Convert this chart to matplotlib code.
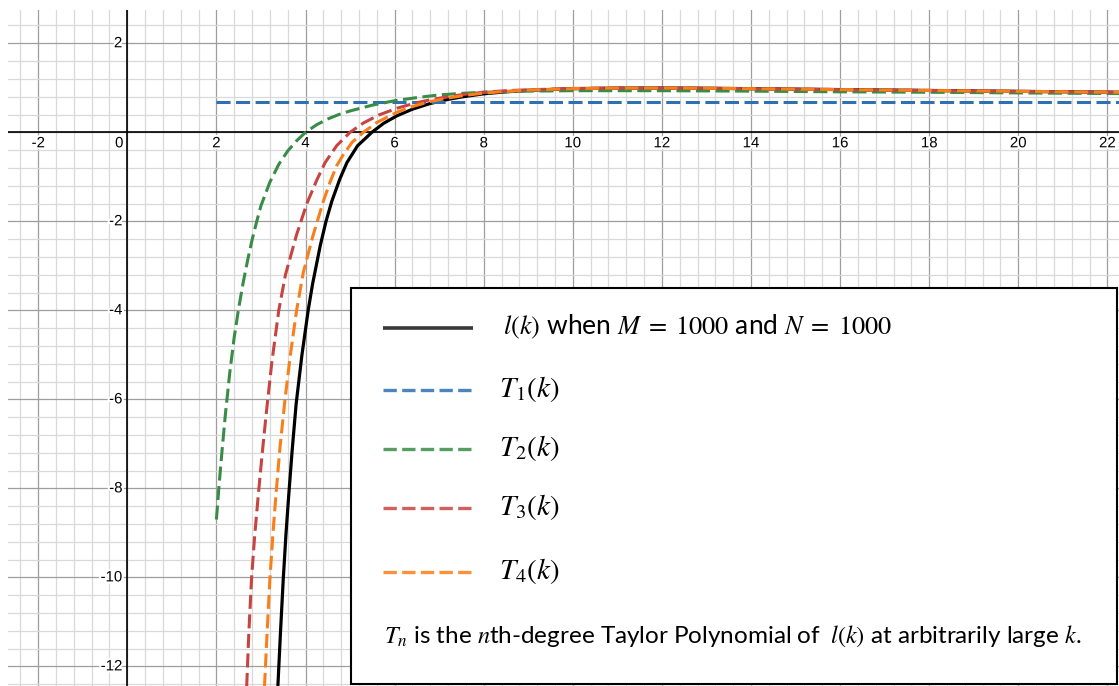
import numpy as np
import matplotlib
matplotlib.use("Agg")
import matplotlib.pyplot as plt
from matplotlib.ticker import MultipleLocator
from matplotlib.patches import Rectangle
import matplotlib.patheffects as pe

plt.rcParams['mathtext.fontset'] = 'stix'

# ----- curve samples (k, value) -----
k_l = [3.36, 3.38, 3.44, 3.50, 3.56, 3.62, 3.70, 3.79, 3.92, 4.06, 4.16, 4.33,
       4.46, 4.59, 4.77, 4.93, 5.17, 5.49, 5.75, 6.05, 6.40, 6.79, 7.20, 7.54,
       8.00, 8.50, 9.00, 10.0, 11.0, 12.0, 13.0, 14.0, 16.0, 18.0, 20.0, 22.3]
l_vals = [-12.9, -12.44, -11.2, -10.05, -9.05, -8.2, -7.15, -6.1, -5.0, -4.0, -3.4, -2.55,
          -2.0, -1.55, -1.05, -0.68, -0.3, 0.0, 0.2, 0.37, 0.52, 0.645, 0.74, 0.80,
          0.865, 0.91, 0.945, 0.98, 0.993, 0.995, 0.99, 0.98, 0.96, 0.94, 0.92, 0.90]

k_t1 = [2.0, 22.3]
t1_vals = [0.69, 0.69]

k_t2 = [2.0, 2.05, 2.1, 2.2, 2.3, 2.4, 2.5, 2.6, 2.7, 2.8, 2.9, 3.0,
        3.2, 3.4, 3.6, 3.8, 4.0, 4.25, 4.5, 4.75, 5.0, 5.5, 6.0, 6.5,
        7.0, 7.5, 8.0, 9.0, 10.0, 12.0, 14.0, 16.0, 18.0, 20.0, 22.3]
t2_vals = [-8.7, -8.05, -7.45, -6.35, -5.4, -4.6, -3.95, -3.38, -2.88, -2.42, -2.02, -1.65,
           -1.12, -0.72, -0.42, -0.19, 0.0, 0.17, 0.3, 0.4, 0.48, 0.61, 0.71, 0.78,
           0.84, 0.875, 0.9, 0.925, 0.935, 0.935, 0.925, 0.91, 0.90, 0.885, 0.87]

k_t3 = [2.66, 2.68, 2.73, 2.79, 2.86, 2.94, 3.02, 3.11, 3.24, 3.40, 3.55, 3.80,
        4.03, 4.25, 4.44, 4.70, 5.00, 5.30, 5.65, 6.05, 6.40, 6.79, 7.20, 7.54,
        8.00, 8.50, 9.00, 10.0, 11.0, 12.0, 13.0, 14.0, 16.0, 18.0, 20.0, 22.3]
t3_vals = [-12.9, -12.44, -11.2, -10.0, -9.05, -8.15, -7.3, -6.4, -5.2, -4.0, -3.2, -2.3,
           -1.6, -1.08, -0.68, -0.3, 0.0, 0.21, 0.39, 0.54, 0.64, 0.73, 0.80, 0.85,
           0.90, 0.935, 0.955, 0.985, 0.995, 0.995, 0.99, 0.98, 0.96, 0.94, 0.92, 0.90]

k_t4 = [3.06, 3.08, 3.14, 3.20, 3.27, 3.34, 3.43, 3.54, 3.66, 3.80, 3.95, 4.16,
        4.40, 4.55, 4.70, 4.85, 5.05, 5.30, 5.60, 6.05, 6.40, 6.79, 7.20, 7.54,
        8.00, 8.50, 9.00, 10.0, 11.0, 12.0, 13.0, 14.0, 16.0, 18.0, 20.0, 22.3]
t4_vals = [-12.9, -12.44, -11.2, -10.05, -9.0, -8.1, -7.05, -6.0, -5.0, -4.0, -3.15, -2.35,
           -1.55, -1.12, -0.75, -0.5, -0.22, 0.0, 0.22, 0.45, 0.58, 0.69, 0.77, 0.825,
           0.88, 0.92, 0.95, 0.982, 0.994, 0.995, 0.99, 0.98, 0.96, 0.94, 0.92, 0.90]

x_ticks = [-2, 0, 2, 4, 6, 8, 10, 12, 14, 16, 18, 20, 22]
y_ticks = [2, -2, -4, -6, -8, -10, -12]

BLACK = '#000000'
BLUE = '#2d70b3'
GREEN = '#388c46'
RED = '#c74440'
ORANGE = '#fa7e19'
DASH = (0, (4.6, 1.8))
LEG_DASH = (0, (4.0, 1.6))

W, H = 1119, 686
fig = plt.figure(figsize=(W / 100, H / 100), dpi=100)
ax = fig.add_axes([8 / W, 0, (W - 8) / W, (H - 10) / H])
ax.set_xlim(-2.678, 22.26)
ax.set_ylim(-12.44, 2.748)

# --- grid ---
ax.xaxis.set_major_locator(MultipleLocator(2))
ax.yaxis.set_major_locator(MultipleLocator(2))
ax.xaxis.set_minor_locator(MultipleLocator(0.4))
ax.yaxis.set_minor_locator(MultipleLocator(0.4))
ax.grid(which='minor', color='#d9d9d9', lw=0.9, zorder=0)
ax.grid(which='major', color='#9e9e9e', lw=0.9, zorder=0)
ax.set_axisbelow(True)
ax.tick_params(which='both', length=0, labelbottom=False, labelleft=False)
for s in ax.spines.values():
    s.set_visible(False)
ax.axhline(0, color='black', lw=1.2, zorder=1)
ax.axvline(0, color='black', lw=1.2, zorder=1)

halo = [pe.withStroke(linewidth=3, foreground='white')]
for xt in x_ticks:
    ax.annotate(str(xt), (xt, 0), xytext=(-8 if xt == 0 else 0, -11),
                textcoords='offset pixels', ha='center', va='center',
                fontsize=10.8, family='Liberation Sans', path_effects=halo, zorder=2)
for yt in y_ticks:
    ax.annotate(str(yt), (0, yt), xytext=(-5, 0), textcoords='offset pixels',
                ha='right', va='center', fontsize=10.8, family='Liberation Sans',
                path_effects=halo, zorder=2)

# --- curves ---
ax.plot(k_l, l_vals, color=BLACK, lw=2.3, zorder=3)
ax.plot(k_t1, t1_vals, color=BLUE, lw=2.2, linestyle=DASH, zorder=3)
ax.plot(k_t2, t2_vals, color=GREEN, lw=2.2, linestyle=DASH, zorder=3)
ax.plot(k_t3, t3_vals, color=RED, lw=2.2, linestyle=DASH, zorder=3)
ax.plot(k_t4, t4_vals, color=ORANGE, lw=2.2, linestyle=DASH, zorder=3)

# --- legend box (pixel coordinates) ---
lg = fig.add_axes([0, 0, 1, 1], zorder=10)
lg.set_xlim(0, W)
lg.set_ylim(H, 0)
lg.axis('off')
lg.add_patch(Rectangle((351, 288), 766, 396, facecolor='white', edgecolor='black', lw=1.5))

rows = [
    (390, BLUE, r'$T_1(k)$'),
    (449, GREEN, r'$T_2(k)$'),
    (508, RED, r'$T_3(k)$'),
    (572, ORANGE, r'$T_4(k)$'),
]
lg.plot([383, 473], [328, 328], color='#222222', lw=2.6, alpha=0.9, solid_capstyle='butt')
lg.text(503, 327, r'$l(k)$ when $M\;=\;1000$ and $N\;=\;1000$',
        fontsize=19, family='Lato', va='center', ha='left')
for y, c, label in rows:
    lg.plot([383, 473], [y, y], color=c, lw=2.4, linestyle=LEG_DASH, alpha=0.85,
            dash_capstyle='butt')
    lg.text(499, y - 1, label, fontsize=21, family='Lato', va='center', ha='left')

lg.text(384, 636, r'$T_n$ is the $n$th-degree Taylor Polynomial of $\;l(k)$ at arbitrarily large $k$.',
        fontsize=17.5, family='Lato', va='center', ha='left')

fig.savefig('out.png', dpi=100)
